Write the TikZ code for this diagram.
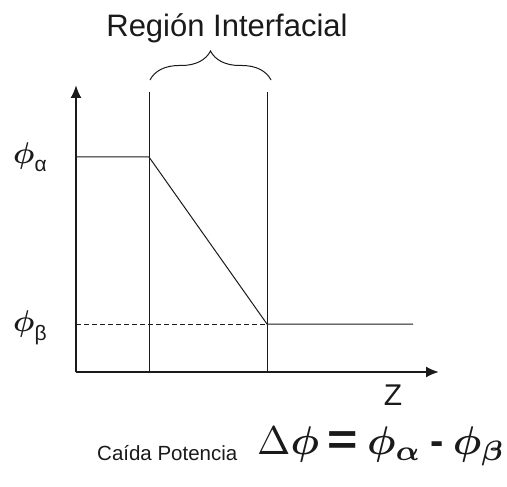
\documentclass[tikz,border=0pt]{standalone}
\usepackage{fontspec}
\setmainfont{Liberation Sans}
\usepackage{amsmath}
\usepackage{bm}
\usetikzlibrary{arrows.meta,positioning,calc,decorations.pathreplacing}
\definecolor{Ink}{HTML}{1A1A1A}

\begin{document}
\begin{tikzpicture}[x=1pt,y=-1pt,>={Latex[length=13pt,width=11pt]}]
\useasboundingbox (0,0) rectangle (507,487);
\tikzset{axisline/.style={Ink,line width=2pt},
  thinline/.style={Ink,line width=1pt},
  lbl/.style={inner sep=0pt,text=Ink}}
% ejes
\coordinate (O) at (76,372);
\coordinate (ytip) at (76,85);
\coordinate (xtip) at (439,372);
\draw[axisline,->] (O) -- (ytip);
\draw[axisline,->] (O) -- (xtip);
% limites de la region interfacial
\coordinate (a0) at (149,372);
\coordinate (a1) at (149,92);
\coordinate (b0) at (267,372);
\coordinate (b1) at (267,92);
\draw[thinline] (a0) -- (a1);
\draw[thinline] (b0) -- (b1);
% potencial
\coordinate (pa) at (76,157);
\coordinate (qa) at (149,157);
\coordinate (pb) at (76,324);
\coordinate (qb) at (267,324);
\coordinate (pe) at (413,324);
\draw[thinline] (pa) -- (qa) -- (qb) -- (pe);
\draw[thinline,dashed,dash pattern=on 5pt off 3pt] (pb) -- (qb);
% llave
\coordinate (ba) at (150,80);
\coordinate (bb) at (271,80);
\draw[thinline,decorate,decoration={brace,amplitude=29pt}] (ba) -- (bb);
% textos
\node[lbl,font=\fontsize{31}{36}\selectfont] (titulo) at (227,28) {Región Interfacial};
\node[lbl,anchor=base west] (phia) at (13,164) {\scalebox{3}{$\bm{\phi}$}\raisebox{-8pt}{\fontsize{21}{24}\selectfont α}};
\node[lbl,anchor=base west] (phib) at (13,331) {\scalebox{3}{$\bm{\phi}$}\raisebox{-9pt}{\fontsize{21}{24}\selectfont β}};
\node[lbl,font=\fontsize{30}{34}\selectfont] (zlab) at (393,395) {Z};
\node[lbl,font=\fontsize{20.5}{24}\selectfont,anchor=west] (caida) at (97,453) {Caída Potencia};
\node[lbl,anchor=west] (formula) at (257,446) {\scalebox{4}{$\Delta\bm{\phi}\mathbin{\scalebox{1.3}[1.1]{\textbf{=}}}\bm{\phi_\alpha}\mathbin{\textbf{-}}\bm{\phi_\beta}$}};
\end{tikzpicture}
\end{document}
